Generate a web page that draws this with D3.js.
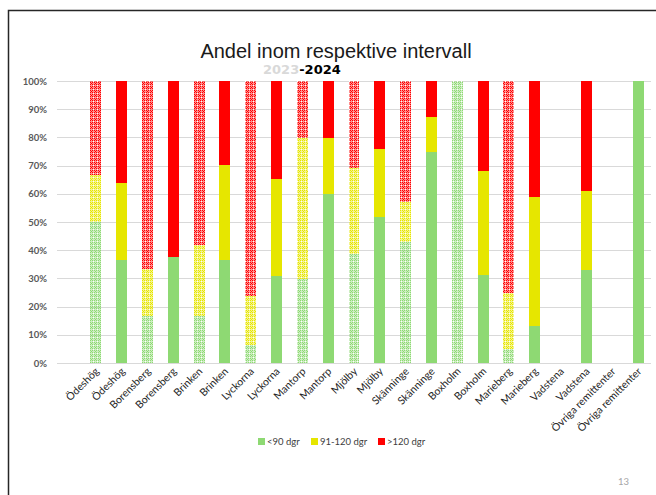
<!DOCTYPE html>
<html lang="sv">
<head>
<meta charset="utf-8" />
<title>Andel inom respektive intervall</title>
<script src="https://d3js.org/d3.v7.min.js"></script>
<style>
  body { margin: 0; background: #fff; }
  svg { display: block; }
  .grid line { stroke: #d9d9d9; stroke-width: 1; shape-rendering: crispEdges; }
  .ylab text { font-family: Lato, sans-serif; font-weight: bold; font-size: 9.5px; fill: #595959; }
  .xlab text { font-family: Lato, sans-serif; font-size: 10.5px; fill: #262626; }
  .legend text { font-family: Lato, sans-serif; font-size: 9.5px; fill: #404040; }
</style>
</head>
<body>
<svg id="chart" width="656" height="495"></svg>
<script>
// categories (each site twice: 2023, 2024)
var categories = ["Ödeshög","Ödeshög","Borensberg","Borensberg","Brinken","Brinken",
  "Lyckorna","Lyckorna","Mantorp","Mantorp","Mjölby","Mjölby","Skänninge","Skänninge",
  "Boxholm","Boxholm","Marieberg","Marieberg","Vadstena","Vadstena",
  "Övriga remittenter","Övriga remittenter"];
var years = [2023,2024,2023,2024,2023,2024,2023,2024,2023,2024,2023,2024,
  2023,2024,2023,2024,2023,2024,2023,2024,2023,2024];

// share in percent
var under90 = [50, 36.4, 16.7, 37.5, 16.7, 36.6, 6.5, 30.9, 29.8, 60, 38.8, 51.8,
  42.9, 75, 100, 31.3, 5, 13.2, 0, 33.1, 0, 100];
var d91to120 = [16.7, 27.3, 16.7, 0, 25, 33.6, 17.3, 34.4, 50, 19.8, 30.4, 24.1,
  14.3, 12.2, 0, 36.8, 19.7, 45.7, 0, 27.9, 0, 0];
var over120 = [33.3, 36.4, 66.7, 62.5, 58.3, 29.8, 76.2, 34.7, 20.2, 20.2, 30.8, 24.1,
  42.9, 12.8, 0, 31.9, 75.3, 41.1, 0, 39, 0, 0];

var seriesNames = ["<90 dgr", "91-120 dgr", ">120 dgr"];
var seriesKeys = ["u", "m", "o"];
var seriesColors = ["#8ED973", "#E6E600", "#FF0000"];
var yTicks = [0,10,20,30,40,50,60,70,80,90,100];

var svg = d3.select("#chart");
var pLeft = 57, pRight = 651, pTop = 81, pBottom = 363;

// page frame
svg.append("path").attr("d", "M8.5,495V10.5H656")
  .attr("fill", "none").attr("stroke", "#262626").attr("stroke-width", 1.5);

// title
svg.append("text").attr("x", 336).attr("y", 58).attr("text-anchor", "middle")
  .style("font-family", "'Liberation Sans', Arial, sans-serif").style("font-size", "20px")
  .attr("fill", "#1a1a1a").text("Andel inom respektive intervall");
var sub = svg.append("text").attr("x", 263).attr("y", 74)
  .style("font-family", "'DejaVu Sans', sans-serif").style("font-size", "13px")
  .style("font-weight", "bold");
sub.append("tspan").attr("fill", "#d9d9d9").text("2023");
sub.append("tspan").attr("fill", "#000").text("-2024");

var rows = categories.map(function(c, i) {
  return {key: i, cat: c, year: years[i], u: under90[i], m: d91to120[i], o: over120[i]};
});

var step = (pRight - pLeft) / 23;
var x = d3.scaleBand().domain(rows.map(function(d){ return d.key; }))
  .range([pLeft + step, pRight]).paddingInner(0.575).paddingOuter(0.2875);
var y = d3.scaleLinear().domain([0, 100]).range([pBottom, pTop]);

// patterns for 2023 bars
var defs = svg.append("defs");
seriesColors.forEach(function(c, i) {
  var p = defs.append("pattern").attr("id", "pat" + i)
    .attr("patternUnits", "userSpaceOnUse").attr("width", 4).attr("height", 4);
  p.append("rect").attr("width", 4).attr("height", 4).attr("fill", c).attr("opacity", 0.45);
  [[0,0],[2,0],[1,1],[3,1],[0,2],[2,2],[1,3],[3,3]].forEach(function(q, k) {
    if (k === 3 || k === 6) return;
    p.append("rect").attr("x", q[0]).attr("y", q[1]).attr("width", 1).attr("height", 1)
      .attr("fill", c);
  });
  p.append("rect").attr("x", 1).attr("y", 1).attr("width", 1).attr("height", 1).attr("fill", "#fff");
});

// y axis with gridlines
var yAxis = svg.append("g").attr("transform", "translate(" + pLeft + ",0)")
  .call(d3.axisLeft(y).tickValues(yTicks).tickSize(-(pRight - pLeft)).tickPadding(10)
    .tickFormat(function(d){ return d + "%"; }));
yAxis.select(".domain").remove();
yAxis.attr("class", "grid ylab").attr("font-family", null).attr("font-size", null);

// stacked bars
var stack = d3.stack().keys(seriesKeys)(rows);
svg.append("g").selectAll("g").data(stack).join("g")
  .each(function(s, si) {
    d3.select(this).selectAll("rect").data(s).join("rect")
      .attr("x", function(d){ return x(d.data.key); })
      .attr("width", x.bandwidth())
      .attr("y", function(d){ return y(d[1]); })
      .attr("height", function(d){ return y(d[0]) - y(d[1]); })
      .attr("fill", function(d){ return d.data.year === 2023 ? "url(#pat" + si + ")" : seriesColors[si]; })
      .attr("shape-rendering", "crispEdges");
  });

// x labels
svg.append("g").attr("class", "xlab").selectAll("text").data(rows).join("text")
  .attr("transform", function(d){
    return "translate(" + (x(d.key) + x.bandwidth() / 2 + 4) + "," + (pBottom + 9) + ") rotate(-45)";
  })
  .attr("text-anchor", "end").text(function(d){ return d.cat; });

// legend
var legX = [258, 311, 378];
var leg = svg.append("g").attr("class", "legend");
seriesNames.forEach(function(n, i) {
  leg.append("rect").attr("x", legX[i]).attr("y", 438).attr("width", 7).attr("height", 7)
    .attr("fill", seriesColors[i]);
  leg.append("text").attr("x", legX[i] + 9).attr("y", 445).text(n);
});

// page number
svg.append("text").attr("x", 629).attr("y", 485).attr("text-anchor", "end")
  .style("font-family", "Lato, sans-serif").style("font-size", "9.5px")
  .attr("fill", "#a6a6a6").text("13");
</script>
</body>
</html>
